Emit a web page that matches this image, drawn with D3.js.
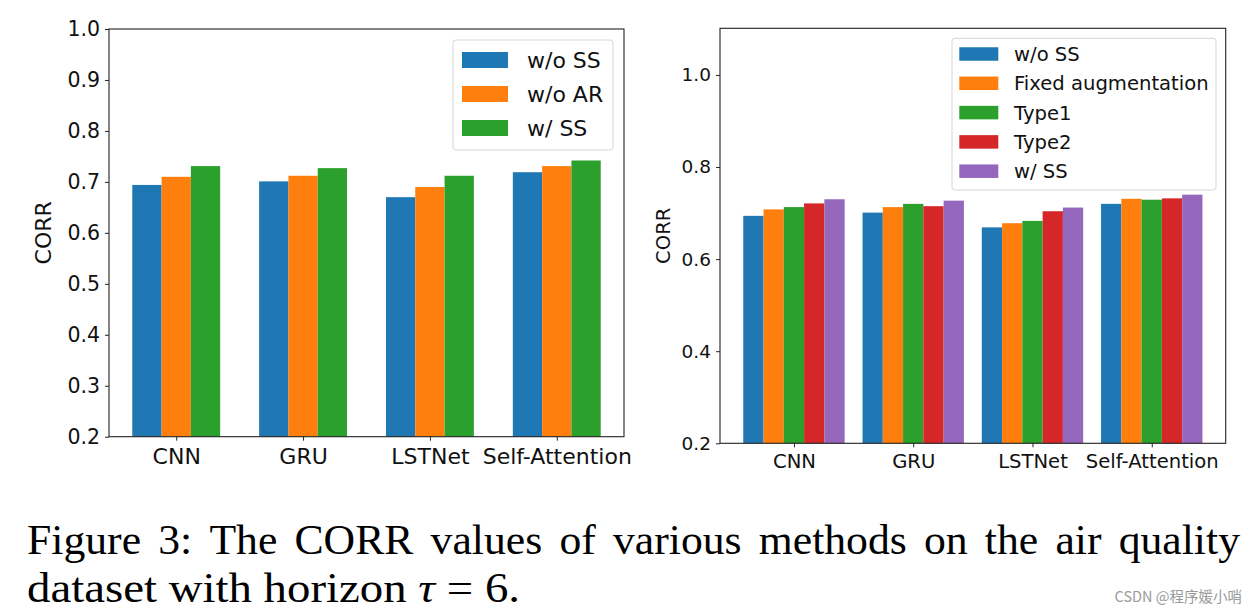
<!DOCTYPE html>
<html><head><meta charset="utf-8">
<script src="https://cdn.jsdelivr.net/npm/d3@7"></script>
<style>body{margin:0;background:#fff}svg{display:block}</style>
</head><body>
<svg id="c" width="1258" height="615"></svg>
<script>
const categories = ["CNN","GRU","LSTNet","Self-Attention"];
// left panel
const leftSeries = ["w/o SS","w/o AR","w/ SS"];
const leftWoSS = [0.694, 0.701, 0.670, 0.719];
const leftWoAR = [0.710, 0.712, 0.690, 0.731];
const leftWSS  = [0.731, 0.727, 0.712, 0.742];
const leftTicks = [0.2,0.3,0.4,0.5,0.6,0.7,0.8,0.9,1.0];
// right panel
const rightSeries = ["w/o SS","Fixed augmentation","Type1","Type2","w/ SS"];
const rightWoSS  = [0.694, 0.701, 0.669, 0.720];
const rightFixed = [0.708, 0.713, 0.678, 0.731];
const rightType1 = [0.713, 0.720, 0.683, 0.729];
const rightType2 = [0.721, 0.715, 0.704, 0.732];
const rightWSS   = [0.730, 0.727, 0.712, 0.740];
const rightTicks = [0.2,0.4,0.6,0.8,1.0];
const colors = ["#1f77b4","#ff7f0e","#2ca02c","#d62728","#9467bd"];
const captionLine1 = "Figure 3: The CORR values of various methods on the air quality";
const captionLine2a = "dataset with horizon ";
const captionTau = "τ";
const captionLine2b = " = 6.";
const watermark = "CSDN @程序媛小哨";

const svg = d3.select("#c");

function panel(cfg){
  const g = svg.append("g");
  const x = d3.scaleLinear().domain(cfg.xdom).range([cfg.x0, cfg.x1]);
  const y = d3.scaleLinear().domain(cfg.ydom).range([cfg.y1, cfg.y0]);
  const n = cfg.values.length;
  cfg.values.forEach((vals, si) => {
    const off = (si - (n-1)/2) * cfg.bw;
    g.selectAll(null).data(vals).enter().append("rect")
      .attr("x", (d,i) => x(i + off - cfg.bw/2))
      .attr("width", (d,i) => x(i + off + cfg.bw/2) - x(i + off - cfg.bw/2))
      .attr("y", d => y(d))
      .attr("height", d => y(cfg.ydom[0]) - y(d))
      .attr("fill", colors[si]);
  });
  const yAxis = d3.axisLeft(y).tickValues(cfg.yticks).tickFormat(d3.format(".1f")).tickSize(4).tickPadding(5);
  const ya = g.append("g").attr("transform", `translate(${cfg.x0},0)`).call(yAxis);
  ya.select(".domain").remove();
  ya.selectAll("text").attr("font-family","DejaVu Sans").attr("font-size", cfg.fs).attr("fill","#111");
  ya.selectAll("line").attr("stroke","#222");
  const xAxis = d3.axisBottom(x).tickValues(d3.range(categories.length)).tickFormat(i => categories[i]).tickSize(4).tickPadding(cfg.xpad);
  const xa = g.append("g").attr("transform", `translate(0,${cfg.y1})`).call(xAxis);
  xa.select(".domain").remove();
  xa.selectAll("text").attr("font-family","DejaVu Sans").attr("font-size", cfg.fs2).attr("fill","#111");
  xa.selectAll("line").attr("stroke","#222");
  g.append("rect").attr("x",cfg.x0).attr("y",cfg.y0).attr("width",cfg.x1-cfg.x0).attr("height",cfg.y1-cfg.y0)
    .attr("fill","none").attr("stroke","#222").attr("stroke-width",1.1);
  g.append("text").attr("transform",`translate(${cfg.ylx},${(cfg.y0+cfg.y1)/2}) rotate(-90)`)
    .attr("text-anchor","middle").attr("font-family","DejaVu Sans").attr("font-size",cfg.fs2).attr("fill","#111").text("CORR");
  const L = cfg.legend;
  g.append("rect").attr("x",L.x).attr("y",L.y).attr("width",L.w).attr("height",L.h).attr("rx",3)
    .attr("fill","#fff").attr("fill-opacity",0.8).attr("stroke","#d5d5d5");
  cfg.names.forEach((nm, i) => {
    const cy = L.row0 + i*L.step;
    g.append("rect").attr("x",L.px).attr("y",cy-L.ph/2).attr("width",L.pw).attr("height",L.ph).attr("fill",colors[i]);
    g.append("text").attr("x",L.tx).attr("y",cy).attr("dy","0.36em").attr("font-family","DejaVu Sans")
      .attr("font-size",cfg.fs2).attr("fill","#111").text(nm);
  });
}

panel({
  xdom:[-0.53,3.53], x0:109, x1:624, y0:29, y1:436.7, ydom:[0.2,1.0], bw:0.231,
  values:[leftWoSS,leftWoAR,leftWSS], names:leftSeries, yticks:leftTicks, fs:20.5, fs2:22, xpad:8, ylx:51,
  legend:{x:453,y:40,w:160,h:110,row0:60,step:34,px:462,pw:46,ph:16,tx:527}
});
panel({
  xdom:[-0.62,3.62], x0:720, x1:1225.7, y0:28.3, y1:443.3, ydom:[0.2,1.1013], bw:0.17,
  values:[rightWoSS,rightFixed,rightType1,rightType2,rightWSS], names:rightSeries, yticks:rightTicks, fs:18.5, fs2:19.6, xpad:7, ylx:670,
  legend:{x:952,y:38.3,w:264,h:151.7,row0:54,step:29.3,px:959.3,pw:39,ph:13.5,tx:1014}
});

// caption line 1 (justified)
const words = captionLine1.split(" ");
const cap = svg.append("g").attr("font-family","Liberation Serif").attr("font-size",42).attr("fill","#000");
const tnodes = words.map(w => cap.append("text").attr("y",554).text(w));
const widths = tnodes.map(t => t.node().getComputedTextLength() * 1.04);
tnodes.forEach((t,i) => t.attr("textLength", widths[i]).attr("lengthAdjust","spacingAndGlyphs"));
const left = 27, right = 1240;
const gap = (right-left - d3.sum(widths))/(words.length-1);
let cx = left;
tnodes.forEach((t,i) => { t.attr("x",cx); cx += widths[i] + gap; });
// caption line 2
const l2 = cap.append("text").attr("x",27).attr("y",602).attr("textLength",493).attr("lengthAdjust","spacingAndGlyphs");
l2.append("tspan").text(captionLine2a);
l2.append("tspan").attr("font-style","italic").text(captionTau);
l2.append("tspan").text(captionLine2b);

svg.append("text").attr("x",1242).attr("y",602).attr("text-anchor","end")
  .attr("font-family","Noto Sans CJK SC").attr("font-size",14.5).attr("fill","#9a9a9a").text(watermark);
</script>
</body></html>
